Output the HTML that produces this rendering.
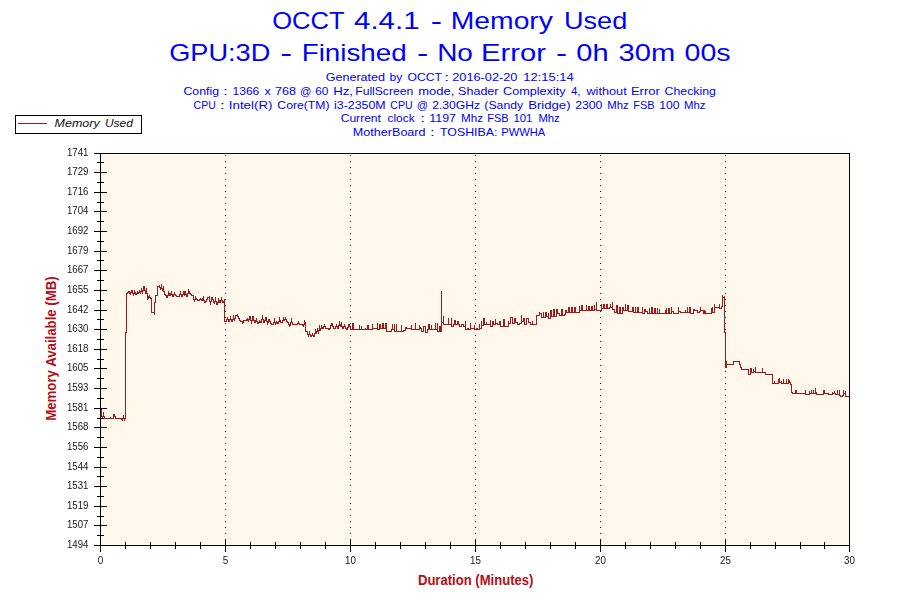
<!DOCTYPE html>
<html><head><meta charset="utf-8"><title>OCCT 4.4.1 - Memory Used</title>
<style>
html,body{margin:0;padding:0;background:#fff;}
body{position:relative;width:900px;height:600px;overflow:hidden;font-family:"Liberation Sans",sans-serif;}
svg{display:block;}
text{font-family:"Liberation Sans",sans-serif;}
.tk{font-size:10.5px;fill:#151515;}
.at{font-size:13.9px;font-weight:bold;fill:#B60E16;}
.lg{font-size:11.5px;font-style:italic;fill:#111;}
.t1{font-size:24px;fill:#0000FF;}
.t2{font-size:11.5px;fill:#0000FF;}
line,rect{shape-rendering:crispEdges;}
</style></head><body>
<svg width="900" height="600" viewBox="0 0 900 600">
<rect x="0" y="0" width="900" height="600" fill="#fff"/>
<rect x="100" y="153" width="750" height="393" fill="#FFF8EB"/>
<line x1="225.5" y1="155" x2="225.5" y2="545" stroke="#000" stroke-width="1" stroke-dasharray="1 5"/>
<line x1="350.5" y1="155" x2="350.5" y2="545" stroke="#000" stroke-width="1" stroke-dasharray="1 5"/>
<line x1="475.5" y1="155" x2="475.5" y2="545" stroke="#000" stroke-width="1" stroke-dasharray="1 5"/>
<line x1="600.5" y1="155" x2="600.5" y2="545" stroke="#000" stroke-width="1" stroke-dasharray="1 5"/>
<line x1="725.5" y1="155" x2="725.5" y2="545" stroke="#000" stroke-width="1" stroke-dasharray="1 5"/>
<path d="M101.5 409V417M102.5 416V419M103.5 412V417M104.5 416V419M105.5 418V419M106.5 418V419M107.5 418V419M108.5 418V419M109.5 418V419M110.5 417V419M111.5 418V419M112.5 418V419M113.5 414V419M114.5 414V417M115.5 416V419M116.5 418V419M117.5 418V419M118.5 418V419M119.5 418V419M120.5 418V419M121.5 418V420M122.5 418V421M123.5 415V419M124.5 418V421M125.5 332V419M126.5 293V333M127.5 292V294M128.5 291V293M129.5 291V294M130.5 292V295M131.5 290V293M132.5 290V294M133.5 293V296M134.5 290V294M135.5 292V295M136.5 293V295M137.5 291V294M138.5 292V294M139.5 290V293M140.5 291V294M141.5 288V292M142.5 290V294M143.5 286V291M144.5 286V291M145.5 290V294M146.5 288V294M147.5 293V300M148.5 296V299M149.5 295V298M150.5 297V299M151.5 298V313M152.5 312V313M153.5 312V313M154.5 302V315M155.5 295V303M156.5 295V296M157.5 286V296M158.5 286V287M159.5 285V288M160.5 287V290M161.5 284V289M162.5 288V291M163.5 286V292M164.5 291V295M165.5 294V296M166.5 295V298M167.5 295V298M168.5 291V296M169.5 293V296M170.5 293V296M171.5 291V295M172.5 294V297M173.5 294V297M174.5 292V295M175.5 294V296M176.5 295V297M177.5 296V297M178.5 296V297M179.5 294V297M180.5 291V295M181.5 294V297M182.5 294V297M183.5 291V295M184.5 291V296M185.5 291V295M186.5 294V297M187.5 293V297M188.5 289V294M189.5 291V294M190.5 293V295M191.5 294V296M192.5 295V296M193.5 295V300M194.5 299V302M195.5 296V300M196.5 298V300M197.5 299V301M198.5 300V301M199.5 299V301M200.5 298V300M201.5 299V301M202.5 298V301M203.5 296V301M204.5 300V303M205.5 301V303M206.5 299V302M207.5 297V300M208.5 297V298M209.5 296V302M210.5 301V305M211.5 297V302M212.5 297V300M213.5 299V303M214.5 301V304M215.5 297V302M216.5 301V305M217.5 302V305M218.5 298V303M219.5 300V303M220.5 300V303M221.5 297V301M222.5 300V303M223.5 301V303M224.5 299V322M225.5 321V322M226.5 319V322M227.5 317V320M228.5 319V322M229.5 319V322M230.5 316V320M231.5 319V322M232.5 319V322M233.5 315V320M234.5 318V321M235.5 315V319M236.5 315V316M237.5 314V317M238.5 316V319M239.5 318V321M240.5 320V322M241.5 321V322M242.5 321V324M243.5 320V323M244.5 320V321M245.5 320V321M246.5 319V321M247.5 318V321M248.5 319V322M249.5 316V320M250.5 316V321M251.5 320V324M252.5 316V321M253.5 316V321M254.5 320V323M255.5 320V323M256.5 318V322M257.5 321V324M258.5 322V324M259.5 320V323M260.5 321V323M261.5 319V323M262.5 315V320M263.5 319V323M264.5 320V323M265.5 317V321M266.5 317V322M267.5 321V325M268.5 319V323M269.5 319V322M270.5 321V324M271.5 323V325M272.5 324V325M273.5 322V325M274.5 318V323M275.5 322V325M276.5 321V324M277.5 322V324M278.5 321V324M279.5 317V322M280.5 320V323M281.5 322V323M282.5 320V323M283.5 317V321M284.5 319V321M285.5 317V320M286.5 319V322M287.5 321V323M288.5 322V325M289.5 324V327M290.5 322V326M291.5 318V323M292.5 322V325M293.5 324V325M294.5 324V325M295.5 324V325M296.5 324V325M297.5 323V325M298.5 321V324M299.5 323V325M300.5 324V325M301.5 324V325M302.5 324V326M303.5 324V327M304.5 320V325M305.5 322V332M306.5 331V332M307.5 331V335M308.5 334V337M309.5 331V335M310.5 334V337M311.5 335V337M312.5 333V336M313.5 335V337M314.5 333V337M315.5 329V334M316.5 331V334M317.5 328V332M318.5 330V334M319.5 325V331M320.5 328V331M321.5 325V329M322.5 327V329M323.5 326V329M324.5 324V327M325.5 326V329M326.5 328V329M327.5 328V329M328.5 328V330M329.5 328V330M330.5 325V329M331.5 323V326M332.5 323V327M333.5 326V329M334.5 328V329M335.5 326V329M336.5 324V327M337.5 326V329M338.5 325V329M339.5 321V326M340.5 324V327M341.5 322V327M342.5 326V329M343.5 326V329M344.5 324V327M345.5 326V329M346.5 328V330M347.5 327V330M348.5 324V328M349.5 324V327M350.5 326V330M351.5 329V330M352.5 323V330M353.5 323V330M354.5 329V330M355.5 329V330M356.5 329V330M357.5 329V330M358.5 329V330M359.5 325V330M360.5 329V330M361.5 326V330M362.5 329V330M363.5 329V330M364.5 329V330M365.5 328V330M366.5 329V330M367.5 325V330M368.5 325V330M369.5 329V330M370.5 329V330M371.5 329V330M372.5 324V330M373.5 328V329M374.5 328V329M375.5 328V329M376.5 328V329M377.5 323V330M378.5 329V330M379.5 324V330M380.5 324V329M381.5 328V329M382.5 323V329M383.5 323V329M384.5 328V329M385.5 323V329M386.5 323V332M387.5 331V332M388.5 331V332M389.5 331V332M390.5 331V332M391.5 329V332M392.5 324V330M393.5 329V330M394.5 324V332M395.5 331V332M396.5 324V332M397.5 331V332M398.5 331V332M399.5 331V332M400.5 331V332M401.5 325V332M402.5 331V332M403.5 330V332M404.5 330V331M405.5 327V331M406.5 327V329M407.5 328V329M408.5 328V329M409.5 328V329M410.5 328V329M411.5 325V330M412.5 329V330M413.5 329V330M414.5 329V330M415.5 323V330M416.5 329V330M417.5 329V330M418.5 329V330M419.5 325V330M420.5 327V329M421.5 328V332M422.5 331V332M423.5 326V332M424.5 326V327M425.5 326V333M426.5 332V333M427.5 329V333M428.5 324V330M429.5 324V330M430.5 329V330M431.5 325V330M432.5 329V330M433.5 329V330M434.5 329V330M435.5 323V330M436.5 329V330M437.5 323V332M438.5 331V332M439.5 326V332M440.5 326V332M441.5 291V332M442.5 322V323M443.5 316V325M444.5 324V325M445.5 324V325M446.5 324V325M447.5 324V325M448.5 318V325M449.5 324V325M450.5 324V325M451.5 318V327M452.5 326V327M453.5 324V327M454.5 320V325M455.5 320V325M456.5 324V325M457.5 321V325M458.5 321V325M459.5 324V327M460.5 326V327M461.5 324V327M462.5 324V325M463.5 324V327M464.5 326V327M465.5 321V330M466.5 329V330M467.5 328V330M468.5 328V330M469.5 329V330M470.5 323V330M471.5 328V329M472.5 328V329M473.5 328V329M474.5 325V330M475.5 329V330M476.5 328V330M477.5 328V330M478.5 329V330M479.5 324V330M480.5 328V329M481.5 321V329M482.5 325V326M483.5 318V326M484.5 318V325M485.5 324V325M486.5 322V325M487.5 324V325M488.5 324V325M489.5 324V325M490.5 320V327M491.5 326V327M492.5 321V327M493.5 321V325M494.5 324V325M495.5 319V325M496.5 323V324M497.5 323V325M498.5 324V325M499.5 321V325M500.5 321V327M501.5 326V327M502.5 326V327M503.5 319V327M504.5 319V327M505.5 326V327M506.5 326V327M507.5 326V327M508.5 321V327M509.5 323V324M510.5 317V324M511.5 317V318M512.5 317V324M513.5 323V324M514.5 318V324M515.5 318V323M516.5 322V323M517.5 322V325M518.5 324V325M519.5 323V325M520.5 323V324M521.5 315V324M522.5 321V322M523.5 318V322M524.5 318V325M525.5 324V325M526.5 318V325M527.5 318V319M528.5 318V323M529.5 322V323M530.5 322V325M531.5 324V325M532.5 321V325M533.5 324V325M534.5 324V325M535.5 324V325M536.5 315V325M537.5 315V316M538.5 315V316M539.5 312V316M540.5 313V314M541.5 313V318M542.5 317V318M543.5 312V318M544.5 317V318M545.5 312V318M546.5 312V317M547.5 316V317M548.5 313V319M549.5 318V319M550.5 310V319M551.5 310V317M552.5 316V317M553.5 309V317M554.5 309V317M555.5 316V317M556.5 309V317M557.5 309V314M558.5 313V314M559.5 313V316M560.5 315V316M561.5 309V316M562.5 309V316M563.5 315V316M564.5 314V316M565.5 310V315M566.5 310V313M567.5 312V313M568.5 307V313M569.5 307V313M570.5 312V313M571.5 307V313M572.5 307V313M573.5 312V313M574.5 307V313M575.5 307V313M576.5 312V313M577.5 312V313M578.5 312V313M579.5 306V313M580.5 310V311M581.5 305V311M582.5 305V311M583.5 310V311M584.5 310V311M585.5 310V311M586.5 305V311M587.5 310V311M588.5 306V311M589.5 306V311M590.5 310V311M591.5 306V311M592.5 306V311M593.5 310V311M594.5 305V311M595.5 309V310M596.5 302V311M597.5 310V311M598.5 310V311M599.5 310V311M600.5 310V311M601.5 304V311M602.5 308V309M603.5 304V309M604.5 304V309M605.5 308V309M606.5 304V309M607.5 304V309M608.5 308V309M609.5 307V309M610.5 304V308M611.5 307V308M612.5 302V310M613.5 309V310M614.5 309V313M615.5 312V313M616.5 305V313M617.5 305V314M618.5 313V314M619.5 307V314M620.5 307V314M621.5 313V314M622.5 307V314M623.5 307V311M624.5 310V311M625.5 304V311M626.5 310V311M627.5 305V311M628.5 305V312M629.5 311V312M630.5 311V312M631.5 311V312M632.5 307V312M633.5 307V313M634.5 312V313M635.5 307V313M636.5 312V313M637.5 307V313M638.5 307V313M639.5 312V313M640.5 312V313M641.5 312V313M642.5 307V314M643.5 313V314M644.5 309V314M645.5 309V312M646.5 311V312M647.5 311V314M648.5 313V314M649.5 308V314M650.5 313V314M651.5 307V314M652.5 307V314M653.5 313V314M654.5 308V314M655.5 308V314M656.5 313V314M657.5 308V314M658.5 313V314M659.5 309V314M660.5 313V314M661.5 313V314M662.5 313V314M663.5 313V314M664.5 313V314M665.5 310V314M666.5 308V314M667.5 313V314M668.5 308V314M669.5 308V314M670.5 313V314M671.5 307V314M672.5 311V312M673.5 311V314M674.5 313V314M675.5 313V314M676.5 313V314M677.5 313V314M678.5 307V314M679.5 311V312M680.5 311V313M681.5 312V313M682.5 312V313M683.5 312V313M684.5 312V313M685.5 310V313M686.5 312V313M687.5 307V313M688.5 312V313M689.5 307V313M690.5 307V314M691.5 313V314M692.5 313V314M693.5 309V314M694.5 309V311M695.5 310V311M696.5 310V311M697.5 310V313M698.5 312V313M699.5 311V313M700.5 307V312M701.5 310V311M702.5 310V311M703.5 310V314M704.5 310V314M705.5 311V314M706.5 313V314M707.5 313V314M708.5 313V314M709.5 313V314M710.5 313V314M711.5 308V314M712.5 307V313M713.5 312V313M714.5 304V313M715.5 307V308M716.5 307V308M717.5 307V308M718.5 307V308M719.5 304V309M720.5 308V309M721.5 306V309M722.5 295V307M723.5 297V298M724.5 296V333M725.5 332V368M726.5 361V368M727.5 364V365M728.5 364V365M729.5 364V365M730.5 364V365M731.5 364V365M732.5 364V365M733.5 361V365M734.5 361V362M735.5 361V362M736.5 361V362M737.5 361V362M738.5 361V362M739.5 361V365M740.5 364V368M741.5 367V370M742.5 369V370M743.5 369V370M744.5 369V370M745.5 369V370M746.5 369V370M747.5 369V370M748.5 369V375M749.5 374V375M750.5 368V375M751.5 368V373M752.5 372V373M753.5 369V373M754.5 371V372M755.5 367V373M756.5 372V373M757.5 372V373M758.5 372V373M759.5 372V373M760.5 372V373M761.5 372V373M762.5 368V373M763.5 372V373M764.5 372V373M765.5 372V375M766.5 374V375M767.5 374V375M768.5 374V375M769.5 374V375M770.5 374V375M771.5 374V375M772.5 374V384M773.5 383V384M774.5 381V384M775.5 383V384M776.5 383V384M777.5 383V384M778.5 379V384M779.5 378V383M780.5 382V383M781.5 381V384M782.5 383V384M783.5 379V384M784.5 383V384M785.5 383V384M786.5 379V384M787.5 383V384M788.5 379V384M789.5 380V383M790.5 382V385M791.5 384V393M792.5 392V394M793.5 393V394M794.5 393V394M795.5 390V394M796.5 390V394M797.5 393V394M798.5 393V394M799.5 393V394M800.5 393V394M801.5 393V394M802.5 393V394M803.5 393V394M804.5 393V394M805.5 390V395M806.5 394V395M807.5 394V395M808.5 394V395M809.5 391V395M810.5 393V394M811.5 390V394M812.5 393V394M813.5 390V394M814.5 393V394M815.5 388V394M816.5 392V395M817.5 394V395M818.5 394V395M819.5 394V395M820.5 394V395M821.5 394V395M822.5 394V395M823.5 390V395M824.5 390V394M825.5 393V394M826.5 393V394M827.5 393V394M828.5 393V395M829.5 394V395M830.5 394V395M831.5 394V395M832.5 392V395M833.5 393V394M834.5 391V394M835.5 393V395M836.5 394V395M837.5 390V395M838.5 394V395M839.5 390V396M840.5 395V397M841.5 396V397M842.5 395V397M843.5 390V396M844.5 393V394M845.5 391V397M846.5 396V397M847.5 396V397M848.5 396V397M849.5 396V397" fill="none" stroke="#A2181C" stroke-width="1" stroke-linejoin="miter" shape-rendering="crispEdges"/>
<rect x="100.5" y="153.5" width="749" height="392" fill="none" stroke="#000" stroke-width="1"/>
<line x1="94" y1="153.5" x2="107" y2="153.5" stroke="#000"/>
<line x1="97" y1="162.5" x2="104" y2="162.5" stroke="#000"/>
<line x1="94" y1="172.5" x2="107" y2="172.5" stroke="#000"/>
<line x1="97" y1="182.5" x2="104" y2="182.5" stroke="#000"/>
<line x1="94" y1="192.5" x2="107" y2="192.5" stroke="#000"/>
<line x1="97" y1="202.5" x2="104" y2="202.5" stroke="#000"/>
<line x1="94" y1="211.5" x2="107" y2="211.5" stroke="#000"/>
<line x1="97" y1="221.5" x2="104" y2="221.5" stroke="#000"/>
<line x1="94" y1="231.5" x2="107" y2="231.5" stroke="#000"/>
<line x1="97" y1="241.5" x2="104" y2="241.5" stroke="#000"/>
<line x1="94" y1="251.5" x2="107" y2="251.5" stroke="#000"/>
<line x1="97" y1="260.5" x2="104" y2="260.5" stroke="#000"/>
<line x1="94" y1="270.5" x2="107" y2="270.5" stroke="#000"/>
<line x1="97" y1="280.5" x2="104" y2="280.5" stroke="#000"/>
<line x1="94" y1="290.5" x2="107" y2="290.5" stroke="#000"/>
<line x1="97" y1="300.5" x2="104" y2="300.5" stroke="#000"/>
<line x1="94" y1="310.5" x2="107" y2="310.5" stroke="#000"/>
<line x1="97" y1="319.5" x2="104" y2="319.5" stroke="#000"/>
<line x1="94" y1="329.5" x2="107" y2="329.5" stroke="#000"/>
<line x1="97" y1="339.5" x2="104" y2="339.5" stroke="#000"/>
<line x1="94" y1="349.5" x2="107" y2="349.5" stroke="#000"/>
<line x1="97" y1="359.5" x2="104" y2="359.5" stroke="#000"/>
<line x1="94" y1="368.5" x2="107" y2="368.5" stroke="#000"/>
<line x1="97" y1="378.5" x2="104" y2="378.5" stroke="#000"/>
<line x1="94" y1="388.5" x2="107" y2="388.5" stroke="#000"/>
<line x1="97" y1="398.5" x2="104" y2="398.5" stroke="#000"/>
<line x1="94" y1="408.5" x2="107" y2="408.5" stroke="#000"/>
<line x1="97" y1="418.5" x2="104" y2="418.5" stroke="#000"/>
<line x1="94" y1="427.5" x2="107" y2="427.5" stroke="#000"/>
<line x1="97" y1="437.5" x2="104" y2="437.5" stroke="#000"/>
<line x1="94" y1="447.5" x2="107" y2="447.5" stroke="#000"/>
<line x1="97" y1="457.5" x2="104" y2="457.5" stroke="#000"/>
<line x1="94" y1="467.5" x2="107" y2="467.5" stroke="#000"/>
<line x1="97" y1="476.5" x2="104" y2="476.5" stroke="#000"/>
<line x1="94" y1="486.5" x2="107" y2="486.5" stroke="#000"/>
<line x1="97" y1="496.5" x2="104" y2="496.5" stroke="#000"/>
<line x1="94" y1="506.5" x2="107" y2="506.5" stroke="#000"/>
<line x1="97" y1="516.5" x2="104" y2="516.5" stroke="#000"/>
<line x1="94" y1="525.5" x2="107" y2="525.5" stroke="#000"/>
<line x1="97" y1="535.5" x2="104" y2="535.5" stroke="#000"/>
<line x1="94" y1="545.5" x2="107" y2="545.5" stroke="#000"/>
<line x1="100.5" y1="539" x2="100.5" y2="552" stroke="#000"/>
<line x1="125.5" y1="542" x2="125.5" y2="549" stroke="#000"/>
<line x1="150.5" y1="542" x2="150.5" y2="549" stroke="#000"/>
<line x1="175.5" y1="542" x2="175.5" y2="549" stroke="#000"/>
<line x1="200.5" y1="542" x2="200.5" y2="549" stroke="#000"/>
<line x1="225.5" y1="539" x2="225.5" y2="552" stroke="#000"/>
<line x1="250.5" y1="542" x2="250.5" y2="549" stroke="#000"/>
<line x1="275.5" y1="542" x2="275.5" y2="549" stroke="#000"/>
<line x1="300.5" y1="542" x2="300.5" y2="549" stroke="#000"/>
<line x1="325.5" y1="542" x2="325.5" y2="549" stroke="#000"/>
<line x1="350.5" y1="539" x2="350.5" y2="552" stroke="#000"/>
<line x1="375.5" y1="542" x2="375.5" y2="549" stroke="#000"/>
<line x1="400.5" y1="542" x2="400.5" y2="549" stroke="#000"/>
<line x1="425.5" y1="542" x2="425.5" y2="549" stroke="#000"/>
<line x1="450.5" y1="542" x2="450.5" y2="549" stroke="#000"/>
<line x1="475.5" y1="539" x2="475.5" y2="552" stroke="#000"/>
<line x1="500.5" y1="542" x2="500.5" y2="549" stroke="#000"/>
<line x1="525.5" y1="542" x2="525.5" y2="549" stroke="#000"/>
<line x1="550.5" y1="542" x2="550.5" y2="549" stroke="#000"/>
<line x1="575.5" y1="542" x2="575.5" y2="549" stroke="#000"/>
<line x1="600.5" y1="539" x2="600.5" y2="552" stroke="#000"/>
<line x1="625.5" y1="542" x2="625.5" y2="549" stroke="#000"/>
<line x1="650.5" y1="542" x2="650.5" y2="549" stroke="#000"/>
<line x1="675.5" y1="542" x2="675.5" y2="549" stroke="#000"/>
<line x1="700.5" y1="542" x2="700.5" y2="549" stroke="#000"/>
<line x1="725.5" y1="539" x2="725.5" y2="552" stroke="#000"/>
<line x1="750.5" y1="542" x2="750.5" y2="549" stroke="#000"/>
<line x1="775.5" y1="542" x2="775.5" y2="549" stroke="#000"/>
<line x1="800.5" y1="542" x2="800.5" y2="549" stroke="#000"/>
<line x1="824.5" y1="542" x2="824.5" y2="549" stroke="#000"/>
<line x1="849.5" y1="539" x2="849.5" y2="552" stroke="#000"/>
<text x="475.7" y="585" text-anchor="middle" class="at" textLength="115.5" lengthAdjust="spacingAndGlyphs">Duration (Minutes)</text>
<text transform="translate(56.3,348.5) rotate(-90)" text-anchor="middle" class="at" textLength="144.5" lengthAdjust="spacingAndGlyphs">Memory Available (MB)</text>
<rect x="15.5" y="115.5" width="126" height="18" fill="#fff" stroke="#000"/>
<line x1="18" y1="123.5" x2="47" y2="123.5" stroke="#A2181C"/>
<text x="54.63" y="127" class="lg" textLength="45.07" lengthAdjust="spacingAndGlyphs">Memory</text>
<text x="104.96" y="127" class="lg" textLength="27.97" lengthAdjust="spacingAndGlyphs">Used</text>
<text x="272.25" y="29.4" class="t1" textLength="72.24" lengthAdjust="spacingAndGlyphs">OCCT</text>
<text x="354.01" y="29.4" class="t1" textLength="65.59" lengthAdjust="spacingAndGlyphs">4.4.1</text>
<text x="430.74" y="29.4" class="t1" textLength="11.32" lengthAdjust="spacingAndGlyphs">-</text>
<text x="450.74" y="29.4" class="t1" textLength="102.21" lengthAdjust="spacingAndGlyphs">Memory</text>
<text x="563.97" y="29.4" class="t1" textLength="63.24" lengthAdjust="spacingAndGlyphs">Used</text>
<text x="169.24" y="60.6" class="t1" textLength="101.07" lengthAdjust="spacingAndGlyphs">GPU:3D</text>
<text x="280.28" y="60.6" class="t1" textLength="11.86" lengthAdjust="spacingAndGlyphs">-</text>
<text x="301.68" y="60.6" class="t1" textLength="104.99" lengthAdjust="spacingAndGlyphs">Finished</text>
<text x="416.94" y="60.6" class="t1" textLength="11.32" lengthAdjust="spacingAndGlyphs">-</text>
<text x="437.16" y="60.6" class="t1" textLength="35.75" lengthAdjust="spacingAndGlyphs">No</text>
<text x="481.06" y="60.6" class="t1" textLength="65.00" lengthAdjust="spacingAndGlyphs">Error</text>
<text x="555.97" y="60.6" class="t1" textLength="11.06" lengthAdjust="spacingAndGlyphs">-</text>
<text x="576.29" y="60.6" class="t1" textLength="32.22" lengthAdjust="spacingAndGlyphs">0h</text>
<text x="618.58" y="60.6" class="t1" textLength="56.62" lengthAdjust="spacingAndGlyphs">30m</text>
<text x="684.60" y="60.6" class="t1" textLength="46.07" lengthAdjust="spacingAndGlyphs">00s</text>
<text x="325.67" y="80.8" class="t2" textLength="59.39" lengthAdjust="spacingAndGlyphs">Generated</text>
<text x="389.47" y="80.8" class="t2" textLength="12.84" lengthAdjust="spacingAndGlyphs">by</text>
<text x="407.55" y="80.8" class="t2" textLength="34.43" lengthAdjust="spacingAndGlyphs">OCCT</text>
<text x="444.33" y="80.8" class="t2" textLength="4.79" lengthAdjust="spacingAndGlyphs">:</text>
<text x="452.26" y="80.8" class="t2" textLength="65.19" lengthAdjust="spacingAndGlyphs">2016-02-20</text>
<text x="523.23" y="80.8" class="t2" textLength="50.43" lengthAdjust="spacingAndGlyphs">12:15:14</text>
<text x="183.48" y="94.8" class="t2" textLength="35.56" lengthAdjust="spacingAndGlyphs">Config</text>
<text x="222.98" y="94.8" class="t2" textLength="4.79" lengthAdjust="spacingAndGlyphs">:</text>
<text x="232.50" y="94.8" class="t2" textLength="26.78" lengthAdjust="spacingAndGlyphs">1366</text>
<text x="264.57" y="94.8" class="t2" textLength="6.25" lengthAdjust="spacingAndGlyphs">x</text>
<text x="275.07" y="94.8" class="t2" textLength="20.98" lengthAdjust="spacingAndGlyphs">768</text>
<text x="300.06" y="94.8" class="t2" textLength="11.40" lengthAdjust="spacingAndGlyphs">@</text>
<text x="315.31" y="94.8" class="t2" textLength="13.13" lengthAdjust="spacingAndGlyphs">60</text>
<text x="333.15" y="94.8" class="t2" textLength="19.74" lengthAdjust="spacingAndGlyphs">Hz,</text>
<text x="355.23" y="94.8" class="t2" textLength="58.00" lengthAdjust="spacingAndGlyphs">FullScreen</text>
<text x="418.15" y="94.8" class="t2" textLength="36.21" lengthAdjust="spacingAndGlyphs">mode,</text>
<text x="458.14" y="94.8" class="t2" textLength="40.35" lengthAdjust="spacingAndGlyphs">Shader</text>
<text x="503.07" y="94.8" class="t2" textLength="62.44" lengthAdjust="spacingAndGlyphs">Complexity</text>
<text x="570.97" y="94.8" class="t2" textLength="9.55" lengthAdjust="spacingAndGlyphs">4,</text>
<text x="586.40" y="94.8" class="t2" textLength="40.28" lengthAdjust="spacingAndGlyphs">without</text>
<text x="630.96" y="94.8" class="t2" textLength="28.90" lengthAdjust="spacingAndGlyphs">Error</text>
<text x="664.58" y="94.8" class="t2" textLength="51.34" lengthAdjust="spacingAndGlyphs">Checking</text>
<text x="193.58" y="108.8" class="t2" textLength="22.12" lengthAdjust="spacingAndGlyphs">CPU</text>
<text x="220.14" y="108.8" class="t2" textLength="4.79" lengthAdjust="spacingAndGlyphs">:</text>
<text x="228.80" y="108.8" class="t2" textLength="43.68" lengthAdjust="spacingAndGlyphs">Intel(R)</text>
<text x="277.39" y="108.8" class="t2" textLength="52.11" lengthAdjust="spacingAndGlyphs">Core(TM)</text>
<text x="334.00" y="108.8" class="t2" textLength="51.58" lengthAdjust="spacingAndGlyphs">i3-2350M</text>
<text x="390.37" y="108.8" class="t2" textLength="22.23" lengthAdjust="spacingAndGlyphs">CPU</text>
<text x="416.87" y="108.8" class="t2" textLength="11.28" lengthAdjust="spacingAndGlyphs">@</text>
<text x="432.19" y="108.8" class="t2" textLength="47.87" lengthAdjust="spacingAndGlyphs">2.30GHz</text>
<text x="484.37" y="108.8" class="t2" textLength="38.72" lengthAdjust="spacingAndGlyphs">(Sandy</text>
<text x="528.15" y="108.8" class="t2" textLength="42.43" lengthAdjust="spacingAndGlyphs">Bridge)</text>
<text x="575.19" y="108.8" class="t2" textLength="27.24" lengthAdjust="spacingAndGlyphs">2300</text>
<text x="607.29" y="108.8" class="t2" textLength="21.41" lengthAdjust="spacingAndGlyphs">Mhz</text>
<text x="633.22" y="108.8" class="t2" textLength="21.32" lengthAdjust="spacingAndGlyphs">FSB</text>
<text x="659.29" y="108.8" class="t2" textLength="20.17" lengthAdjust="spacingAndGlyphs">100</text>
<text x="684.09" y="108.8" class="t2" textLength="21.41" lengthAdjust="spacingAndGlyphs">Mhz</text>
<text x="340.70" y="122.2" class="t2" textLength="40.26" lengthAdjust="spacingAndGlyphs">Current</text>
<text x="387.52" y="122.2" class="t2" textLength="27.10" lengthAdjust="spacingAndGlyphs">clock</text>
<text x="420.29" y="122.2" class="t2" textLength="4.79" lengthAdjust="spacingAndGlyphs">:</text>
<text x="429.27" y="122.2" class="t2" textLength="26.70" lengthAdjust="spacingAndGlyphs">1197</text>
<text x="461.07" y="122.2" class="t2" textLength="21.94" lengthAdjust="spacingAndGlyphs">Mhz</text>
<text x="487.22" y="122.2" class="t2" textLength="21.43" lengthAdjust="spacingAndGlyphs">FSB</text>
<text x="513.45" y="122.2" class="t2" textLength="19.01" lengthAdjust="spacingAndGlyphs">101</text>
<text x="538.39" y="122.2" class="t2" textLength="21.41" lengthAdjust="spacingAndGlyphs">Mhz</text>
<text x="352.89" y="135.9" class="t2" textLength="72.67" lengthAdjust="spacingAndGlyphs">MotherBoard</text>
<text x="430.13" y="135.9" class="t2" textLength="4.79" lengthAdjust="spacingAndGlyphs">:</text>
<text x="439.95" y="135.9" class="t2" textLength="57.56" lengthAdjust="spacingAndGlyphs">TOSHIBA:</text>
<text x="501.31" y="135.9" class="t2" textLength="43.93" lengthAdjust="spacingAndGlyphs">PWWHA</text>
</svg>
<svg width="900" height="600" viewBox="0 0 900 600" style="position:absolute;left:0;top:0;will-change:transform;">
<text x="88.4" y="155.7" text-anchor="end" class="tk" textLength="21.5" lengthAdjust="spacingAndGlyphs">1741</text>
<text x="88.4" y="174.7" text-anchor="end" class="tk" textLength="21.5" lengthAdjust="spacingAndGlyphs">1729</text>
<text x="88.4" y="194.7" text-anchor="end" class="tk" textLength="21.5" lengthAdjust="spacingAndGlyphs">1716</text>
<text x="88.4" y="213.7" text-anchor="end" class="tk" textLength="21.5" lengthAdjust="spacingAndGlyphs">1704</text>
<text x="88.4" y="233.7" text-anchor="end" class="tk" textLength="21.5" lengthAdjust="spacingAndGlyphs">1692</text>
<text x="88.4" y="253.7" text-anchor="end" class="tk" textLength="21.5" lengthAdjust="spacingAndGlyphs">1679</text>
<text x="88.4" y="272.7" text-anchor="end" class="tk" textLength="21.5" lengthAdjust="spacingAndGlyphs">1667</text>
<text x="88.4" y="292.7" text-anchor="end" class="tk" textLength="21.5" lengthAdjust="spacingAndGlyphs">1655</text>
<text x="88.4" y="312.7" text-anchor="end" class="tk" textLength="21.5" lengthAdjust="spacingAndGlyphs">1642</text>
<text x="88.4" y="331.7" text-anchor="end" class="tk" textLength="21.5" lengthAdjust="spacingAndGlyphs">1630</text>
<text x="88.4" y="351.7" text-anchor="end" class="tk" textLength="21.5" lengthAdjust="spacingAndGlyphs">1618</text>
<text x="88.4" y="370.7" text-anchor="end" class="tk" textLength="21.5" lengthAdjust="spacingAndGlyphs">1605</text>
<text x="88.4" y="390.7" text-anchor="end" class="tk" textLength="21.5" lengthAdjust="spacingAndGlyphs">1593</text>
<text x="88.4" y="410.7" text-anchor="end" class="tk" textLength="21.5" lengthAdjust="spacingAndGlyphs">1581</text>
<text x="88.4" y="429.7" text-anchor="end" class="tk" textLength="21.5" lengthAdjust="spacingAndGlyphs">1568</text>
<text x="88.4" y="449.7" text-anchor="end" class="tk" textLength="21.5" lengthAdjust="spacingAndGlyphs">1556</text>
<text x="88.4" y="469.7" text-anchor="end" class="tk" textLength="21.5" lengthAdjust="spacingAndGlyphs">1544</text>
<text x="88.4" y="488.7" text-anchor="end" class="tk" textLength="21.5" lengthAdjust="spacingAndGlyphs">1531</text>
<text x="88.4" y="508.7" text-anchor="end" class="tk" textLength="21.5" lengthAdjust="spacingAndGlyphs">1519</text>
<text x="88.4" y="527.7" text-anchor="end" class="tk" textLength="21.5" lengthAdjust="spacingAndGlyphs">1507</text>
<text x="88.4" y="547.7" text-anchor="end" class="tk" textLength="21.5" lengthAdjust="spacingAndGlyphs">1494</text>
<text x="100.5" y="564.2" text-anchor="middle" class="tk" textLength="5.5" lengthAdjust="spacingAndGlyphs">0</text>
<text x="225.5" y="564.2" text-anchor="middle" class="tk" textLength="5.5" lengthAdjust="spacingAndGlyphs">5</text>
<text x="350.5" y="564.2" text-anchor="middle" class="tk" textLength="10.9" lengthAdjust="spacingAndGlyphs">10</text>
<text x="475.5" y="564.2" text-anchor="middle" class="tk" textLength="10.9" lengthAdjust="spacingAndGlyphs">15</text>
<text x="600.5" y="564.2" text-anchor="middle" class="tk" textLength="10.9" lengthAdjust="spacingAndGlyphs">20</text>
<text x="725.5" y="564.2" text-anchor="middle" class="tk" textLength="10.9" lengthAdjust="spacingAndGlyphs">25</text>
<text x="849.5" y="564.2" text-anchor="middle" class="tk" textLength="10.9" lengthAdjust="spacingAndGlyphs">30</text>
</svg>
</body></html>
